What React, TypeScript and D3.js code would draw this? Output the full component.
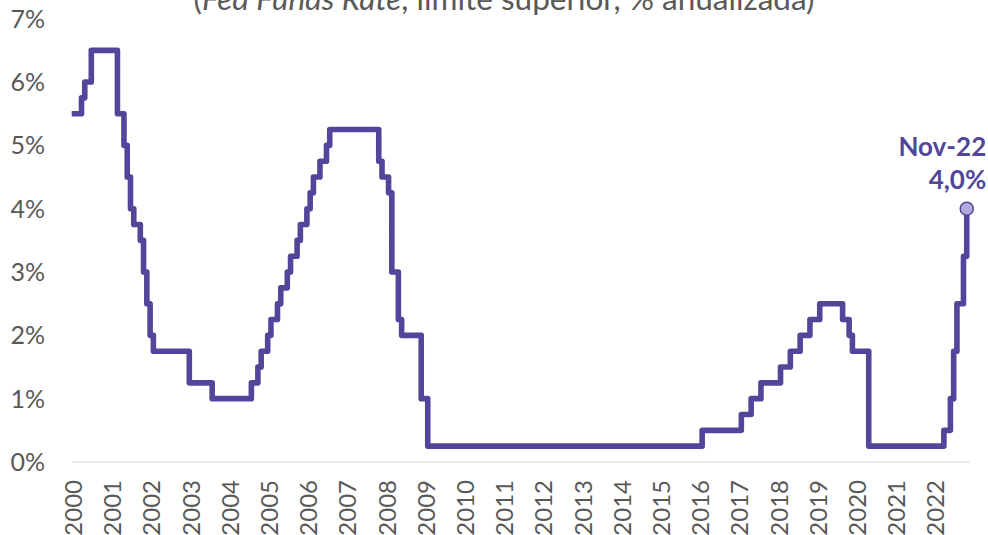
import React from 'react';
import * as d3 from 'd3';

// ---------- data ----------
const firstMonth = '2000-01';
const lastMonth = '2022-11';

const yearLabels = [
  '2000', '2001', '2002', '2003', '2004', '2005', '2006', '2007', '2008', '2009', '2010', '2011',
  '2012', '2013', '2014', '2015', '2016', '2017', '2018', '2019', '2020', '2021', '2022',
];

const yTicks = [0, 1, 2, 3, 4, 5, 6, 7];

// month (as positioned in the chart) where a new upper-limit level begins
const changeMonths = [
  '2000-01', '2000-04', '2000-05', '2000-07',
  '2001-03', '2001-05', '2001-06', '2001-07', '2001-08', '2001-10', '2001-11', '2001-12',
  '2002-01', '2002-02',
  '2003-01', '2003-08',
  '2004-08', '2004-10', '2004-11',
  '2005-01', '2005-02', '2005-04', '2005-05', '2005-07', '2005-08', '2005-10', '2005-11',
  '2006-01', '2006-02', '2006-03', '2006-05', '2006-07', '2006-08',
  '2007-11', '2007-12',
  '2008-02', '2008-03', '2008-05', '2008-06', '2008-12',
  '2009-02',
  '2016-02',
  '2017-02', '2017-05', '2017-08',
  '2018-02', '2018-05', '2018-08', '2018-11',
  '2019-02', '2019-09', '2019-11', '2019-12',
  '2020-05',
  '2022-04', '2022-06', '2022-07', '2022-08', '2022-10', '2022-11',
];

const changeRates = [
  5.5, 5.75, 6.0, 6.5,
  5.5, 5.0, 4.5, 4.0, 3.75, 3.5, 3.0, 2.5,
  2.0, 1.75,
  1.25, 1.0,
  1.25, 1.5, 1.75,
  2.0, 2.25, 2.5, 2.75, 3.0, 3.25, 3.5, 3.75,
  4.0, 4.25, 4.5, 4.75, 5.0, 5.25,
  4.75, 4.5,
  4.25, 3.0, 2.25, 2.0, 1.0,
  0.25,
  0.5,
  0.75, 1.0, 1.25,
  1.5, 1.75, 2.0, 2.25,
  2.5, 2.25, 2.0, 1.75,
  0.25,
  0.5, 1.0, 1.75, 2.5, 3.25, 4.0,
];

const lastDateLabel = 'Nov-22';
const lastValueLabel = '4,0%';

// ---------- helpers ----------
function monthKeys(start: string, end: string): string[] {
  const fmt = d3.timeFormat('%Y-%m');
  const parse = d3.timeParse('%Y-%m');
  const s = parse(start)!;
  const e = parse(end)!;
  return d3.timeMonth.range(s, d3.timeMonth.offset(e, 1)).map((d) => fmt(d));
}

const LINE = '#51469a';
const GREY = '#595959';
const FONT = 'Lato, "Open Sans", sans-serif';

export default function App() {
  const W = 988;
  const H = 535;
  const months = monthKeys(firstMonth, lastMonth);

  const x = d3.scaleBand<string>().domain(months).range([71.7, 970]).paddingInner(0).paddingOuter(0);
  const y = d3.scaleLinear().domain([0, 7]).range([462, 18.7]);

  const pts = changeMonths.map((m, i) => ({ m, v: changeRates[i] }));
  const line = d3
    .line<{ m: string; v: number }>()
    .x((d) => x(d.m) as number)
    .y((d) => y(d.v))
    .curve(d3.curveStepAfter);

  const last = pts[pts.length - 1];
  const lx = x(last.m) as number;
  const ly = y(last.v);

  const [x0, x1] = x.range();

  return (
    <svg
      width={W}
      height={H}
      viewBox={`0 0 ${W} ${H}`}
      style={{ position: 'absolute', left: 0, top: 0, display: 'block', background: '#fff' }}
    >
      {/* title (partially cut at top, as in the reference) */}
      <text x={504} y={10} textAnchor="middle" fontFamily={FONT} fontSize={31.5} fill={GREY}>
        <tspan>(</tspan>
        <tspan fontStyle="italic">Fed Funds Rate</tspan>
        <tspan>, límite superior, % anualizada)</tspan>
      </text>

      {/* y tick labels */}
      {yTicks.map((t) => (
        <text
          key={t}
          x={45}
          y={y(t)}
          dy="0.36em"
          textAnchor="end"
          fontFamily={FONT}
          fontSize={25}
          fill={GREY}
        >
          {`${t}%`}
        </text>
      ))}

      {/* x axis line */}
      <line x1={x0} x2={x1} y1={y(0)} y2={y(0)} stroke="#d9d9d9" strokeWidth={1.2} />

      {/* x tick labels */}
      {yearLabels.map((yr) => {
        const cx = (x(`${yr}-01`) as number) + x.bandwidth() / 2;
        return (
          <text
            key={yr}
            transform={`translate(${cx},${480}) rotate(-90)`}
            dy="0.36em"
            textAnchor="end"
            fontFamily={FONT}
            fontSize={24}
            fill={GREY}
          >
            {yr}
          </text>
        );
      })}

      {/* series */}
      <path
        d={line(pts) || ''}
        fill="none"
        stroke={LINE}
        strokeWidth={5.6}
        strokeLinejoin="round"
        strokeLinecap="butt"
      />

      {/* last point marker */}
      <circle cx={lx} cy={ly} r={6.5} fill="#b3abdb" stroke={LINE} strokeWidth={1.5} />

      {/* annotation */}
      <text x={lx + 19.5} y={ly - 53} textAnchor="end" fontFamily={FONT} fontWeight={700} fontSize={26} fill={LINE}>
        {lastDateLabel}
      </text>
      <text x={lx + 19.5} y={ly - 20} textAnchor="end" fontFamily={FONT} fontWeight={700} fontSize={26} fill={LINE}>
        {lastValueLabel}
      </text>
    </svg>
  );
}
